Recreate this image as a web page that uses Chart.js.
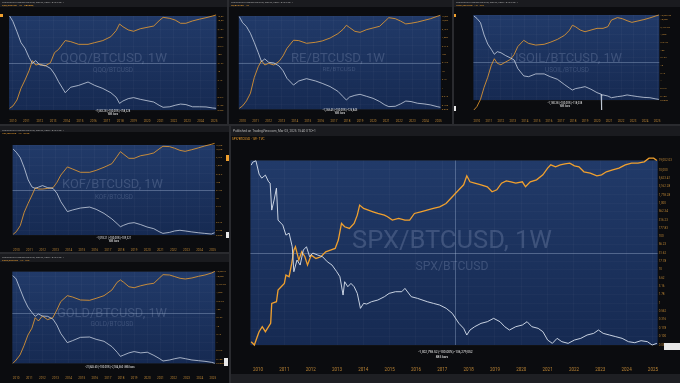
<!DOCTYPE html>
<html><head><meta charset="utf-8">
<script src="https://cdn.jsdelivr.net/npm/chart.js@4.4.1/dist/chart.umd.min.js"></script>
<style>
html,body{margin:0;padding:0;background:#2a2b2f;width:680px;height:383px;overflow:hidden;}
canvas{position:absolute;display:block;}
</style></head><body>
<canvas id="c1" width="227" height="124" style="left:0;top:0"></canvas>
<canvas id="c2" width="223" height="124" style="left:229px;top:0"></canvas>
<canvas id="c3" width="226" height="124" style="left:454px;top:0"></canvas>
<canvas id="c4" width="229" height="126" style="left:0;top:126px"></canvas>
<canvas id="c5" width="229" height="129" style="left:0;top:254px"></canvas>
<canvas id="c6" width="449" height="257" style="left:231px;top:126px"></canvas>
<script>
// ---- DATA (log10 of ratio; white = X/BTCUSD, orange = BTCUSD/X) ----
const yearTicks = [2010,2011,2012,2013,2014,2015,2016,2017,2018,2019,2020,2021,2022,2023,2024,2025];

const spxYearsWhite = [2009.74,2009.80,2009.92,2010.04,2010.14,2010.28,2010.40,2010.46,2010.52,2010.61,2010.70,2010.76,2010.94,2011.06,2011.18,2011.30,2011.36,2011.48,2011.60,2011.72,2011.84,2011.96,2012.08,2012.27,2012.45,2012.63,2012.81,2012.99,2013.11,2013.23,2013.29,2013.41,2013.53,2013.65,2013.77,2013.89,2014.01,2014.13,2014.31,2014.55,2014.80,2014.98,2015.22,2015.46,2015.58,2015.82,2016.06,2016.43,2016.66,2016.90,2017.15,2017.38,2017.63,2017.81,2017.93,2018.05,2018.23,2018.47,2018.71,2018.95,2019.19,2019.37,2019.55,2019.79,2020.04,2020.22,2020.40,2020.64,2020.82,2021.00,2021.18,2021.36,2021.54,2021.78,2022.02,2022.26,2022.50,2022.75,2022.93,2023.11,2023.35,2023.59,2023.83,2024.07,2024.31,2024.55,2024.79,2024.97,2025.15];
const spxBtcLog = [4.14,4.23,4.27,3.87,3.75,3.84,3.64,3.60,2.79,3.09,3.45,2.49,2.34,2.04,2.10,1.69,0.94,1.29,1.14,1.59,1.69,1.39,1.50,1.44,1.39,1.24,1.14,0.94,0.79,0.24,0.64,0.49,0.59,0.49,0.29,-0.16,-0.01,-0.03,0.04,0.09,0.19,0.29,0.34,0.34,0.44,0.19,0.14,0.04,-0.01,-0.06,-0.16,-0.31,-0.61,-0.76,-0.96,-0.81,-0.71,-0.61,-0.56,-0.46,-0.56,-0.71,-0.81,-0.71,-0.66,-0.56,-0.71,-0.76,-0.86,-1.11,-1.21,-1.06,-1.16,-1.21,-1.11,-1.06,-0.96,-0.91,-0.81,-0.91,-0.96,-1.01,-1.06,-1.16,-1.19,-1.13,-1.16,-1.26,-1.21];
const spxYearsOrange = [2009.74,2009.86,2009.97,2010.04,2010.16,2010.28,2010.40,2010.48,2010.52,2010.70,2010.76,2010.88,2011.00,2011.06,2011.18,2011.28,2011.36,2011.42,2011.55,2011.66,2011.78,2011.88,2012.02,2012.20,2012.39,2012.57,2012.75,2012.93,2013.05,2013.17,2013.29,2013.47,2013.65,2013.77,2013.86,2014.01,2014.19,2014.37,2014.55,2014.80,2014.92,2015.10,2015.34,2015.58,2015.76,2015.94,2016.18,2016.42,2016.66,2016.90,2017.14,2017.38,2017.63,2017.81,2017.93,2018.05,2018.23,2018.47,2018.71,2018.89,2019.07,2019.25,2019.43,2019.61,2019.79,2020.04,2020.16,2020.34,2020.58,2020.82,2021.00,2021.12,2021.30,2021.48,2021.66,2021.84,2022.02,2022.19,2022.38,2022.62,2022.87,2023.05,2023.23,2023.47,2023.71,2023.95,2024.19,2024.43,2024.67,2024.85,2025.03,2025.15];
const btcSpxLog = [-4.18,-4.28,-4.03,-3.88,-3.73,-3.88,-3.73,-3.63,-3.03,-2.98,-2.63,-2.53,-2.43,-2.18,-2.23,-1.83,-1.43,-1.33,-1.73,-1.48,-1.63,-1.88,-1.58,-1.68,-1.63,-1.48,-1.43,-1.38,-1.13,-0.63,-0.73,-0.78,-0.63,-0.38,-0.08,-0.18,-0.23,-0.28,-0.33,-0.38,-0.43,-0.53,-0.48,-0.53,-0.53,-0.33,-0.28,-0.23,-0.18,-0.13,-0.03,0.17,0.38,0.53,0.80,0.62,0.58,0.53,0.47,0.32,0.38,0.58,0.65,0.62,0.58,0.62,0.47,0.62,0.68,0.83,1.03,1.13,1.07,1.13,1.16,1.18,1.10,1.07,0.92,0.88,0.80,0.83,0.92,0.98,1.03,1.13,1.18,1.18,1.22,1.33,1.33,1.26];

const smallYears = [2009.75,2010.0,2010.3,2010.6,2010.9,2011.2,2011.45,2011.7,2012.0,2012.4,2012.8,2013.1,2013.4,2013.9,2014.3,2014.9,2015.6,2016.1,2016.7,2017.3,2017.7,2017.95,2018.2,2018.6,2019.0,2019.5,2020.0,2020.5,2020.9,2021.2,2021.7,2022.1,2022.5,2022.9,2023.4,2023.9,2024.4,2024.9,2025.15];

const qqqBtcLog = [4.28,3.95,3.35,2.71,2.37,1.84,1.49,1.65,1.39,1.37,1.19,0.86,0.41,-0.24,0.08,0.19,0.39,0.19,0.01,-0.24,-0.51,-0.87,-0.73,-0.59,-0.53,-0.63,-0.71,-0.79,-0.98,-1.10,-1.07,-0.98,-0.91,-0.94,-1.07,-1.07,-1.08,-1.14,-1.16];
const btcQqqLog = [-4.18,-4.04,-3.69,-3.00,-2.51,-1.96,-1.37,-1.63,-1.57,-1.69,-1.49,-0.90,-0.71,-0.19,-0.25,-0.41,-0.41,-0.31,-0.19,0.04,0.40,0.79,0.63,0.44,0.36,0.51,0.59,0.67,0.98,1.18,1.12,1.02,0.83,0.83,0.97,1.07,1.16,1.26,1.32];

const reBtcLog = [4.24,3.88,3.65,3.25,2.70,2.10,1.57,1.73,1.53,1.49,1.31,1.03,0.58,0.18,0.42,0.56,0.42,0.28,0.09,-0.19,-0.51,-0.71,-0.53,-0.43,-0.37,-0.49,-0.61,-0.80,-1.00,-1.10,-1.08,-0.94,-0.77,-0.80,-0.90,-0.94,-1.00,-1.10,-1.14];
const btcReLog = [-4.22,-4.08,-3.78,-3.33,-2.38,-1.75,-1.39,-1.65,-1.55,-1.65,-1.43,-1.11,-0.66,-0.18,-0.20,-0.36,-0.30,-0.22,-0.05,0.21,0.47,0.71,0.57,0.35,0.29,0.45,0.55,0.65,0.94,1.16,1.10,0.96,0.79,0.83,0.90,1.00,1.10,1.24,1.30];

const usoilYears = [2009.75,2010.0,2010.3,2010.6,2010.9,2011.2,2011.45,2011.7,2012.0,2012.4,2012.8,2013.1,2013.4,2013.9,2014.3,2014.9,2015.6,2016.1,2016.7,2017.3,2017.7,2017.95,2018.2,2018.6,2019.0,2019.5,2020.0,2020.34,2020.37,2020.40,2020.5,2020.9,2021.2,2021.7,2022.1,2022.5,2022.9,2023.4,2023.9,2024.4,2024.9,2025.15];
const usoilBtcLog = [4.21,4.06,3.78,2.98,2.39,2.04,1.72,1.89,1.82,1.63,1.48,1.35,0.80,0.31,0.26,0.44,0.44,0.26,0.09,-0.26,-0.48,-0.61,-0.52,-0.46,-0.39,-0.56,-0.78,-0.88,-1.91,-0.95,-0.93,-1.00,-1.11,-1.04,-1.00,-0.93,-0.98,-1.04,-1.09,-1.11,-1.19,-1.22];
const btcUsoilLog = [-4.93,-4.71,-4.24,-3.45,-2.80,-2.02,-1.59,-1.89,-1.98,-1.80,-1.63,-1.32,-0.80,-0.39,-0.59,-0.70,-0.65,-0.52,-0.33,-0.06,0.26,0.59,0.50,0.28,0.17,0.28,0.39,0.39,0.50,0.93,1.09,1.02,0.89,0.78,0.87,0.96,1.07,1.20,1.26];

const kofBtcLog = [4.03,3.83,3.50,2.88,2.13,1.69,1.61,1.69,1.78,1.65,1.61,1.31,0.79,0.18,0.28,0.40,0.46,0.32,0.07,-0.27,-0.56,-0.75,-0.66,-0.54,-0.50,-0.62,-0.77,-0.87,-1.05,-1.16,-1.10,-1.01,-0.97,-1.01,-1.07,-1.12,-1.16,-1.20,-1.12];
const btcKofLog = [-4.24,-4.07,-3.70,-2.88,-2.33,-1.82,-1.37,-1.45,-1.45,-1.41,-1.37,-1.04,-0.59,-0.09,-0.22,-0.42,-0.42,-0.30,-0.11,0.11,0.56,0.85,0.69,0.44,0.44,0.60,0.67,0.77,1.01,1.18,1.16,1.06,0.93,0.87,0.97,1.08,1.20,1.30,1.36];

const goldBtcLog = [4.04,3.84,3.23,2.63,2.14,1.82,1.58,1.72,1.60,1.58,1.42,1.06,0.55,-0.01,0.11,0.31,0.33,0.19,0.07,-0.25,-0.59,-0.84,-0.76,-0.63,-0.55,-0.63,-0.59,-0.78,-0.96,-1.12,-1.06,-0.98,-0.92,-0.98,-1.06,-1.10,-1.14,-1.20,-1.26];
const btcGoldLog = [-4.28,-4.08,-3.77,-3.21,-2.57,-2.16,-1.52,-1.72,-1.42,-1.64,-1.52,-1.06,-0.55,-0.19,-0.27,-0.45,-0.47,-0.35,-0.19,0.15,0.62,0.76,0.62,0.35,0.29,0.41,0.50,0.56,0.86,1.08,1.06,0.96,0.86,0.82,0.88,0.98,1.06,1.18,1.28];

// ---- RENDERING ----
const FONT = "Roboto, 'DejaVu Sans', sans-serif";
const WHITE = 'rgba(214,222,236,0.92)', ORANGE = '#f0a02e', AMBER = '#b98334';
const pub = 'Published on TradingView.com, Mar 03, 2025 15:40 UTC+1';

function makeDecor(o) {
  return {
    id: 'decor',
    beforeDraw(chart) {
      const { ctx, chartArea: a, width: W, height: H } = chart;
      ctx.save();
      ctx.fillStyle = '#0b0c0f'; ctx.fillRect(0, 0, W, H);
      ctx.fillStyle = '#1a1b1f'; ctx.fillRect(0, 0, W, o.headerH);
      if (o.footerH) { ctx.fillStyle = '#1e1f23'; ctx.fillRect(0, H - o.footerH, W, o.footerH); }
      const g = ctx.createLinearGradient(0, a.top, 0, a.bottom);
      g.addColorStop(0, '#213a69'); g.addColorStop(1, '#162a52');
      ctx.fillStyle = g; ctx.fillRect(a.left, a.top, a.right - a.left, a.bottom - a.top);
      ctx.restore();
    },
    beforeDatasetsDraw(chart) {
      const { ctx, chartArea: a, scales } = chart;
      ctx.save();
      ctx.textAlign = 'center'; ctx.textBaseline = 'alphabetic';
      ctx.fillStyle = 'rgba(150,166,198,0.27)';
      [o.wm, o.sub].forEach(w => {
        ctx.font = '100px ' + FONT;
        const m = ctx.measureText(w.t).width;
        ctx.font = (100 * w.w / m).toFixed(2) + 'px ' + FONT;
        ctx.fillText(w.t, w.cx, w.by);
      });
      ctx.strokeStyle = 'rgba(175,195,225,0.34)'; ctx.lineWidth = 1;
      if (o.crossY != null) {
        const y = Math.round(scales.yw.getPixelForValue(o.crossY)) + 0.5;
        ctx.beginPath(); ctx.moveTo(a.left, y); ctx.lineTo(a.right, y); ctx.stroke();
      }
      if (o.crossX != null) {
        const x = Math.round(scales.x.getPixelForValue(o.crossX)) + 0.5;
        ctx.beginPath(); ctx.moveTo(x, a.top); ctx.lineTo(x, a.bottom); ctx.stroke();
      }
      ctx.restore();
    },
    afterDraw(chart) {
      const { ctx } = chart;
      ctx.save();
      (o.boxes || []).forEach(b => { ctx.fillStyle = b.c; ctx.fillRect(b.x, b.y, b.w, b.h); });
      (o.texts || []).forEach(t => {
        ctx.font = t.s + 'px ' + FONT; ctx.fillStyle = t.c;
        ctx.textAlign = t.a || 'left'; ctx.textBaseline = 'middle';
        ctx.fillText(t.t, t.x, t.y);
      });
      ctx.restore();
    }
  };
}

function fmtPow(v) {
  const n = Math.pow(10, v);
  return n >= 1 ? n.toLocaleString('en-US', { maximumFractionDigits: 2 }) : n.toPrecision(3);
}

function panel(id, c) {
  const el = document.getElementById(id);
  const W = el.width, H = el.height;
  const toPts = (xs, ys) => xs.map((x, i) => ({ x: x, y: ys[i] }));
  return new Chart(el, {
    type: 'line',
    data: { datasets: [
      { data: toPts(c.wYears, c.white), yAxisID: 'yw', borderColor: WHITE, borderWidth: c.lwW, pointRadius: 0, tension: 0, clip: false },
      { data: toPts(c.oYears, c.orange), yAxisID: 'yo', borderColor: ORANGE, borderWidth: c.lwO, pointRadius: 0, tension: 0, clip: false }
    ]},
    options: {
      responsive: false, animation: false, events: [], devicePixelRatio: 1,
      layout: { padding: { left: c.rect.l, top: c.rect.t, right: 0, bottom: 0 } },
      plugins: { legend: { display: false }, tooltip: { enabled: false } },
      scales: {
        x: {
          type: 'linear', position: 'bottom', min: 2009.71, max: 2025.18,
          grid: { color: 'rgba(255,255,255,0.028)', drawTicks: false },
          border: { display: false },
          ticks: { color: AMBER, font: { size: c.xfs, family: FONT }, padding: c.xpad, autoSkip: false, maxRotation: 0, includeBounds: false,
                   callback: v => String(Math.round(v)) },
          afterBuildTicks: s => { s.ticks = yearTicks.map(v => ({ value: v })); },
          afterFit: s => { s.height = H - c.rect.b; }
        },
        yw: {
          type: 'linear', position: 'right', min: -1.2596, max: 4.2788,
          grid: { color: 'rgba(255,255,255,0.025)', drawTicks: false },
          border: { display: false },
          ticks: { color: AMBER, font: { size: c.yfs, family: FONT }, padding: 1, stepSize: c.ystep, callback: v => fmtPow(v) },
          afterFit: s => { s.width = W - c.rect.r; }
        },
        yo: { type: 'linear', display: false, min: -4.2788, max: 1.2596 }
      }
    },
    plugins: [makeDecor(c.decor)]
  });
}

const tiny = (t, x, y, s, c, a) => ({ t, x, y, s, c, a });

// QQQ
panel('c1', {
  wYears: smallYears, white: qqqBtcLog, oYears: smallYears, orange: btcQqqLog,
  rect: { l: 8.3, t: 16, r: 220, b: 110 }, lwW: 0.8, lwO: 0.8, xfs: 3, xpad: 9.5, yfs: 2.5, ystep: 0.5,
  decor: { headerH: 7, crossY: 1.51,
    wm: { t: 'QQQ/BTCUSD, 1W', cx: 113.5, by: 62, w: 107 }, sub: { t: 'QQQ/BTCUSD', cx: 113, by: 72, w: 40 },
    boxes: [{ x: 0, y: 14, w: 3, h: 3, c: ORANGE }],
    texts: [tiny(pub, 2, 2, 2.4, '#a9a9a9'), tiny('QQQ/BTCUSD · 1W · NASDAQ', 2, 5.3, 2.4, ORANGE),
            tiny('-7,583.28 (-100.00%) -758,328', 113, 111.6, 2.6, '#e6e6e6', 'center'), tiny('885 bars', 113, 114.6, 2.6, '#e6e6e6', 'center')] }
});
// RE
panel('c2', {
  wYears: smallYears, white: reBtcLog, oYears: smallYears, orange: btcReLog,
  rect: { l: 4, t: 16, r: 215.7, b: 109.3 }, lwW: 0.8, lwO: 0.8, xfs: 3, xpad: 10.2, yfs: 2.5, ystep: 0.5,
  decor: { headerH: 7, crossY: 1.51,
    wm: { t: 'RE/BTCUSD, 1W', cx: 109, by: 62, w: 94 }, sub: { t: 'RE/BTCUSD', cx: 110, by: 71, w: 33 },
    texts: [tiny(pub, 2, 2, 2.4, '#a9a9a9'), tiny('RE/BTCUSD · 1W', 2, 5.3, 2.4, ORANGE),
            tiny('-1,268.45 (-100.00%) -126,845', 111, 110.7, 2.6, '#e6e6e6', 'center'), tiny('885 bars', 111, 113.7, 2.6, '#e6e6e6', 'center')] }
});
// USOIL
panel('c3', {
  wYears: usoilYears, white: usoilBtcLog, oYears: smallYears, orange: btcUsoilLog,
  rect: { l: 7.3, t: 15, r: 211.3, b: 100 }, lwW: 0.8, lwO: 0.8, xfs: 3, xpad: 19.5, yfs: 2.5, ystep: 0.5,
  decor: { headerH: 7, crossY: 1.24,
    wm: { t: 'USOIL/BTCUSD, 1W', cx: 112, by: 62, w: 112 }, sub: { t: 'USOIL/BTCUSD', cx: 113, by: 72, w: 44 },
    boxes: [{ x: 0, y: 14, w: 2, h: 3, c: ORANGE }, { x: 0, y: 106, w: 2, h: 5, c: '#e8e8e8' }],
    texts: [tiny(pub, 2, 2, 2.4, '#a9a9a9'), tiny('USOIL/BTCUSD · 1W · TVC', 2, 5.3, 2.4, ORANGE),
            tiny('-1,180.38 (-100.00%) -118,038', 111, 103.2, 2.6, '#e6e6e6', 'center'), tiny('885 bars', 111, 106.5, 2.6, '#e6e6e6', 'center')] }
});
// KOF
panel('c4', {
  wYears: smallYears, white: kofBtcLog, oYears: smallYears, orange: btcKofLog,
  rect: { l: 6.7, t: 19, r: 221.7, b: 109 }, lwW: 0.8, lwO: 0.8, xfs: 3, xpad: 13, yfs: 2.5, ystep: 0.5,
  decor: { headerH: 6, crossY: 1.51,
    wm: { t: 'KOF/BTCUSD, 1W', cx: 112.5, by: 62, w: 101 }, sub: { t: 'KOF/BTCUSD', cx: 114, by: 73, w: 38 },
    boxes: [{ x: 226, y: 29, w: 3, h: 6, c: ORANGE }, { x: 226, y: 106, w: 3, h: 6, c: '#e8e8e8' }],
    texts: [tiny(pub, 2, 4, 2.4, '#a9a9a9'), tiny('KOF/BTCUSD · 1W · NYSE', 2, 7.3, 2.4, ORANGE),
            tiny('-1,093.21 (-100.00%) -109,321', 114, 112, 2.6, '#e6e6e6', 'center'), tiny('885 bars', 114, 115.5, 2.6, '#e6e6e6', 'center')] }
});
// GOLD
panel('c5', {
  wYears: smallYears, white: goldBtcLog, oYears: smallYears, orange: btcGoldLog,
  rect: { l: 6.7, t: 17.7, r: 218.3, b: 109.3 }, lwW: 0.8, lwO: 0.8, xfs: 3, xpad: 12.7, yfs: 2.5, ystep: 0.5,
  decor: { headerH: 8, crossY: 1.79,
    wm: { t: 'GOLD/BTCUSD, 1W', cx: 112, by: 63, w: 110 }, sub: { t: 'GOLD/BTCUSD', cx: 112, by: 72, w: 43 },
    boxes: [{ x: 224, y: 104, w: 4, h: 8, c: '#e8e8e8' }],
    texts: [tiny(pub, 2, 3, 2.4, '#a9a9a9'), tiny('GOLD/BTCUSD · 1W · TVC', 2, 6.3, 2.4, ORANGE),
            tiny('-21,845.60 (-100.00%) -2,184,560  885 bars', 110, 113, 2.6, '#e6e6e6', 'center')] }
});
// SPX (main)
panel('c6', {
  wYears: spxYearsWhite, white: spxBtcLog, oYears: spxYearsOrange, orange: btcSpxLog,
  rect: { l: 5, t: 34.5, r: 433, b: 219 }, lwW: 1, lwO: 1.3, xfs: 4.5, xpad: 22, yfs: 3, ystep: 0.25,
  decor: { headerH: 10, footerH: 9, crossY: 1.51, crossX: 2017.48,
    wm: { t: 'SPX/BTCUSD, 1W', cx: 221, by: 122, w: 200 }, sub: { t: 'SPX/BTCUSD', cx: 221, by: 144, w: 73 },
    boxes: [{ x: 433, y: 217, w: 16, h: 7, c: '#e8e8e8' }],
    texts: [tiny(pub, 2, 5, 3.2, '#b9b9b9'), tiny('SPX/BTCUSD · 1W · TVC', 1, 13, 3, ORANGE),
            tiny('-1,302,798.52 (-100.00%) -136,279,052', 214.5, 226, 3.2, '#eeeeee', 'center'),
            tiny('885 bars', 211, 231, 3.2, '#eeeeee', 'center')] }
});
</script>
</body></html>
